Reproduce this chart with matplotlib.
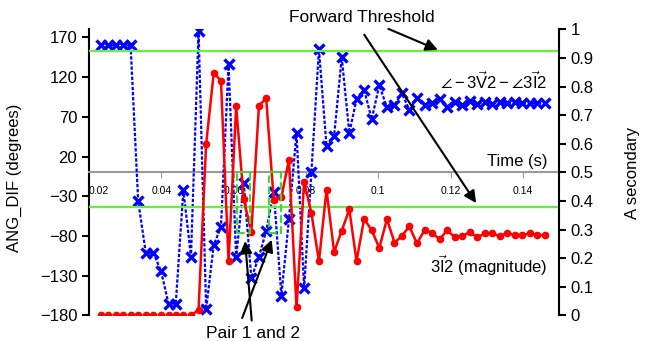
import matplotlib
matplotlib.use('Agg')
import matplotlib.pyplot as plt
from matplotlib.patches import Rectangle

plt.rcParams['font.family'] = ['Liberation Sans', 'DejaVu Sans']
plt.rcParams['mathtext.fontset'] = 'custom'
plt.rcParams['mathtext.rm'] = 'Liberation Sans'
plt.rcParams['mathtext.it'] = 'Liberation Sans'

# sample times (s)
time = [0.0232, 0.0253, 0.0274, 0.0295, 0.0315, 0.0336, 0.0357, 0.0378, 0.0399, 0.0420,
        0.0440, 0.0461, 0.0482, 0.0503, 0.0524, 0.0545, 0.0565, 0.0586, 0.0607, 0.0628,
        0.0649, 0.0670, 0.0690, 0.0711, 0.0732, 0.0753, 0.0774, 0.0795, 0.0815, 0.0836,
        0.0857, 0.0878, 0.0899, 0.0920, 0.0940, 0.0961, 0.0982, 0.1003, 0.1024, 0.1045,
        0.1065, 0.1086, 0.1107, 0.1128, 0.1149, 0.1170, 0.1190, 0.1211, 0.1232, 0.1253,
        0.1274, 0.1295, 0.1315, 0.1336, 0.1357, 0.1378, 0.1399, 0.1420, 0.1440, 0.1461]

# angle difference (degrees)
ang_dif = [160, 160, 160, 160, 160, -36, -101, -101, -124, -165,
           -165, -22, -106, 178, -172, -91, -69, 137, -107, -13,
           -133, -106, -74, -24, -155, -59, 50, -146, 0, 155,
           33, 46, 145, 50, 92, 104, 67, 110, 82, 85,
           100, 79, 94, 85, 87, 92, 83, 89, 85, 90,
           86, 89, 86, 89, 87, 89, 87, 88, 87, 88]

# 3I2 magnitude (A secondary)
i2_mag = [0, 0, 0, 0, 0, 0, 0, 0, 0, 0,
          0, 0, 0, 0.02, 0.60, 0.848, 0.821, 0.189, 0.731, 0.406,
          0.292, 0.733, 0.76, 0.404, 0.413, 0.544, 0.028, 0.468, 0.359, 0.19,
          0.439, 0.222, 0.296, 0.371, 0.19, 0.338, 0.298, 0.236, 0.337, 0.255,
          0.277, 0.312, 0.252, 0.298, 0.289, 0.266, 0.298, 0.275, 0.277, 0.292,
          0.273, 0.287, 0.287, 0.277, 0.289, 0.281, 0.281, 0.287, 0.281, 0.281]

thresholds = [0.925, 0.38]
xticks = [0.02, 0.04, 0.06, 0.08, 0.1, 0.12, 0.14]
xticklabels = ['0.02', '0.04', '0.06', '0.08', '0.1', '0.12', '0.14']
left_ticks = [-180, -130, -80, -30, 20, 70, 120, 170]
right_ticks = [0, 0.1, 0.2, 0.3, 0.4, 0.5, 0.6, 0.7, 0.8, 0.9, 1]
right_labels = ['0', '0.1', '0.2', '0.3', '0.4', '0.5', '0.6', '0.7', '0.8', '0.9', '1']

fig = plt.figure(figsize=(6.46, 3.41), dpi=100)
ax = fig.add_axes([0.1378, 0.0748, 0.7275, 0.8387])
ax2 = ax.twinx()

ax.plot(time, ang_dif, color='blue', linestyle=(0, (1.5, 0.8)), linewidth=1.6,
        marker='x', markersize=7, markeredgewidth=2.4, zorder=3)
ax.set_xlim(0.02, 0.15)
ax.set_ylim(-180, 180)
ax.set_yticks(left_ticks)
ax.set_yticklabels([str(v).replace('-', '\u2212') for v in left_ticks])
ax.tick_params(axis='y', labelsize=12, direction='out', length=5, width=1.5)
ax.set_ylabel('ANG_DIF (degrees)', fontsize=12)
ax.yaxis.set_label_coords(-0.143, 0.48)

ax.spines['top'].set_visible(False)
ax.spines['right'].set_visible(False)
ax.spines['left'].set_linewidth(1.5)
ax.spines['bottom'].set_position(('data', 0))
ax.spines['bottom'].set_color('#999999')
ax.spines['bottom'].set_linewidth(1.5)
ax.set_xticks(xticks)
ax.set_xticklabels(xticklabels)
ax.tick_params(axis='x', labelsize=7.5, direction='out', length=4, color='#999999', pad=6)
ax.get_xticklabels()[0].set_horizontalalignment('left')

ax2.set_ylim(0, 1)
ax2.set_yticks(right_ticks)
ax2.set_yticklabels(right_labels)
ax2.tick_params(axis='y', labelsize=12, direction='out', length=5, width=1.5)
ax2.set_ylabel('A secondary', fontsize=12)
ax2.yaxis.set_label_coords(1.14, 0.5)
for s in ['top', 'left', 'bottom']:
    ax2.spines[s].set_visible(False)
ax2.spines['right'].set_linewidth(1.5)

for th in thresholds:
    ax2.axhline(th, color='#66f03c', linewidth=1.6, zorder=1)

ax2.plot(time, i2_mag, color='red', linestyle='-', linewidth=1.8,
         marker='o', markersize=4.5, zorder=2)

# dashed boxes around pair 1 and 2
for x0, x1 in [(0.0608, 0.0645), (0.0698, 0.0732)]:
    ax2.add_patch(Rectangle((x0, 0.289), x1 - x0, 0.5 - 0.289, fill=False,
                            edgecolor='#33dd33', linestyle='--', linewidth=1.5, zorder=4))

ax2.text(0.1468, 0.54, 'Time (s)', ha='right', va='center', fontsize=12)
ax2.text(0.1468, 0.82, r'$\angle-3\vec{V}2-\angle3\vec{I}2$', ha='right', va='center', fontsize=12)
ax2.text(0.1468, 0.175, r'$3\vec{I}2$ (magnitude)', ha='right', va='center', fontsize=12)

arrow = dict(arrowstyle='-|>', color='black', linewidth=1.5, mutation_scale=18)
ax2.annotate('Forward Threshold', xy=(0.1172, 0.925), xytext=(0.0954, 1.042),
             ha='center', va='center', fontsize=12.5, arrowprops=arrow, annotation_clip=False)
ax2.annotate('', xy=(0.1275, 0.385), xytext=(0.0957, 0.99),
             arrowprops=arrow, annotation_clip=False)
ax2.annotate('Pair 1 and 2', xy=(0.0631, 0.27), xytext=(0.0653, -0.063),
             ha='center', va='center', fontsize=12.5, arrowprops=arrow, annotation_clip=False)
ax2.annotate('', xy=(0.0708, 0.274), xytext=(0.0621, -0.018),
             arrowprops=arrow, annotation_clip=False)

fig.savefig('out.png', dpi=100)
